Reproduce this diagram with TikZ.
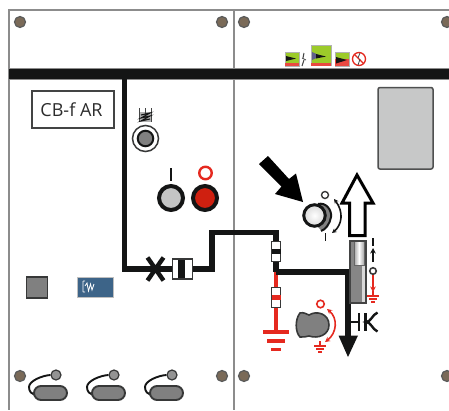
\documentclass[tikz,border=0pt]{standalone}
\usepackage{fontspec}
\setmainfont{Open Sans}
\usetikzlibrary{arrows.meta}
\definecolor{ink}{HTML}{141515}
\definecolor{edgegray}{HTML}{8C8C8C}
\definecolor{redline}{HTML}{E5291F}
\definecolor{redfill}{HTML}{CF2010}
\definecolor{midgray}{HTML}{808080}
\definecolor{lightgray}{HTML}{C4C5C5}
\definecolor{screwfill}{HTML}{7A6A58}
\definecolor{bluefill}{HTML}{3D6488}
\definecolor{greenfill}{HTML}{9CCB2A}
\tikzset{
 panel/.style={draw=edgegray,line width=1.2pt},
 wire/.style={draw=ink,line width=5.6pt,line cap=butt,line join=miter},
 redwire/.style={draw=redline,line width=4.6pt},
 screw/.style={circle,draw=ink!70,fill=screwfill,line width=1.2pt,minimum size=11pt,inner sep=0pt},
 fuseh/.style={draw=ink!85,fill=white,line width=1.4pt,minimum width=20pt,minimum height=20pt,inner sep=0pt},
 fusev/.style={draw=ink!85,fill=white,line width=1.4pt,minimum width=9.5pt,minimum height=20pt,inner sep=0pt},
 pill/.style={draw=ink!85,fill=midgray,line width=1.9pt,rounded corners=7pt},
 knobdot/.style={circle,draw=ink!85,fill=midgray!85,line width=1.2pt,minimum size=10pt,inner sep=0pt},
 thinbar/.style={draw=ink,line width=2pt},
 badge/.style={draw=black!30,line width=.6pt,fill=greenfill},
}
\begin{document}
\begin{tikzpicture}[x=1pt,y=-1pt]
\useasboundingbox (0,0) rectangle (449,410);
\fill[white] (0,0) rectangle (449,410);
% panel frame
\draw[panel] (449,10) -- (9,10) -- (9,410);
\draw[panel] (234,10) -- (234,410);
% screws
\foreach \nm/\px/\py in {a/20/22,b/222/22,c/244/22,d/447/22,e/20/376,f/222/376,g/244/376,h/447/376}
  \node[screw] (screw\nm) at (\px,\py) {};
% bus
\fill[edgegray] (9,68) rectangle (449,80);
\fill[ink] (9,69.3) rectangle (449,79.2);
\coordinate (busT) at (124.5,79);
% CB box
\node[draw=ink!80,line width=1.4pt,minimum width=82pt,minimum height=37pt,inner sep=0pt,font=\fontsize{18}{18}\selectfont,text=ink!90] (cb) at (73,109.5) {\hspace*{-3pt}CB-f AR};
% main wires
\coordinate (c1) at (124.5,269);
\coordinate (c2) at (212,269);
\coordinate (c3) at (212,232.5);
\coordinate (c4) at (276,232.5);
\coordinate (j) at (276,272);
\coordinate (c5) at (348,272);
\coordinate (c6) at (348,340);
\draw[redwire] (276,272) -- (276,332);
\draw[wire] (busT) -- (c1) -- (c2) -- (c3) -- (c4) -- (j);
\draw[wire] (j) -- (c5) -- (c6);
% arrow tip of line
\fill[ink] (338.5,335.5) -- (358,335.5) -- (348,357) -- cycle;
% cross
\coordinate (xc) at (155.5,269);
\draw[ink,line width=4.4pt] (147.5,257.5) -- (163.5,280.5) (147.5,280.5) -- (163.5,257.5);
% fuses
\node[fuseh] (fa) at (182.5,269) {};
\fill[ink] (178,260) rectangle (185,278);
\node[fusev] (fb) at (276,251.5) {};
\fill[ink] (271.5,249) rectangle (280.5,254);
\node[fusev,draw=ink!85] (fc) at (276,297.5) {};
\fill[redline] (271.5,295) rectangle (280.5,300);
% big ground
\coordinate (gnd) at (276,332);
\draw[redline,line width=3.4pt] (263,332) -- (289,332) (267,341) -- (285,341) (271,349.5) -- (281,349.5);
% indicator
\begin{scope}
\fill[black!30] (139,112) rectangle (152,122);
\draw[ink!80,line width=.8pt] (139.5,108) -- (139.5,122) (151.5,108) -- (151.5,122) (145.5,108) -- (145.5,114);
\draw[ink,line width=1.1pt] (141,115) -- (150,113) -- (141,118) -- (150,116) -- (141,121) -- (150,119);
\end{scope}
\node[circle,draw=ink!85,fill=white,line width=1.5pt,minimum size=26pt,inner sep=0pt] (ind) at (145.5,138.5) {};
\node[circle,draw=ink,fill=midgray,line width=2pt,minimum size=15.5pt,inner sep=0pt] (indin) at (145.5,138.5) {};
% buttons
\node[circle,draw=ink,fill=lightgray,line width=4pt,minimum size=24pt,inner sep=0pt] (btnI) at (171,198) {};
\node[circle,draw=ink,fill=redfill,line width=4pt,minimum size=24pt,inner sep=0pt] (btnO) at (205,198) {};
\draw[ink,line width=2.4pt] (171,168) -- (171,181);
\node[circle,draw=redline,fill=white,line width=2.4pt,minimum size=12.5pt,inner sep=0pt] (btnOr) at (205.5,173) {};
% square and blue box
\node[draw=ink!85,fill=midgray,line width=1.7pt,minimum width=21pt,minimum height=21pt,inner sep=0pt] (sq) at (37,287.5) {};
\fill[bluefill,draw=black!25,line width=.5pt] (77.5,277.5) rectangle (113,297);
\draw[white,line width=.8pt] (83,281) -- (83,292) (83,281) -- (85,281) (83,292) -- (85,292)
  (85,286) -- (87,283) -- (88.5,291) -- (90.5,284) -- (92,290) -- (94,284);
% handles
\foreach \i/\dx in {a/0,b/58,c/116}{
  \begin{scope}[xshift=\dx pt]
  \node[knobdot] (k\i) at (56,375) {};
  \draw[ink,line width=1.9pt] (k\i.west) .. controls (42,375.5) and (29,381) .. (29,387) .. controls (29,392) and (32,394) .. (35,395);
  \draw[pill] (34,386) rectangle (67,400);
  \end{scope}
}
% grey display
\draw[ink!75,fill=lightgray!95!white,line width=1.5pt,rounded corners=2pt] (378,87.5) rectangle (433,169);
% top icons
\fill[badge] (285,52) rectangle (299,66);
\fill[redline!85] (285,62.5) rectangle (299,66);
\fill[ink] (286,56) -- (296,58.5) -- (286,61) -- cycle;
\draw[ink!80,line width=1pt] (304,53) -- (303,58) (304,60) -- (302,66);
\draw[ink!80,line width=.8pt] (302,58) -- (306,60);
\fill[badge] (311,45.5) rectangle (331,65.5);
\fill[redline!85] (311,63) rectangle (331,65.5);
\fill[black!30!blue!25!gray] (312,52) -- (321,56) -- (312,60) -- cycle;
\fill[ink] (316,54) -- (326,56.5) -- (316,58.5) -- cycle;
\fill[badge] (335,52.5) rectangle (349,66);
\fill[redline!85] (335,59) rectangle (349,66);
\fill[ink] (336,57) -- (347,60) -- (336,63.5) -- cycle;
\node[circle,draw=redline,line width=1.3pt,minimum size=13pt,inner sep=0pt] (nosign) at (359,59) {};
\draw[redline,line width=1.3pt] (354.5,54.5) -- (363.5,63.5);
\draw[ink!80,line width=.8pt] (360,53) -- (358,58) (360,59) -- (358,65);
% big black arrow
\fill[black] (268,156) -- (289,179) -- (296,173.5) -- (303,202) -- (275,194) -- (281.5,186.5) -- (259,164) -- cycle;
% white up arrow
\draw[black,fill=white,line width=3pt,line join=miter] (357,175) -- (373,203) -- (365,203) -- (365,235.5) -- (349.5,235.5) -- (349.5,203) -- (342,203) -- cycle;
% upper knob
\fill[midgray] (318,204) .. controls (326,202) and (332,210) .. (331,217) .. controls (330,224) and (325,230) .. (321,230) -- (315,224) -- cycle;
\draw[ink,line width=2pt] (318,204) .. controls (326,202) and (332,210) .. (331,217) .. controls (330,224) and (325,230) .. (321,231);
\node[circle,draw=ink,line width=3pt,inner color=white,outer color=black!15,minimum size=21.5pt,inner sep=0pt] (knobA) at (314.5,215.5) {};
\node[circle,draw=ink!85,fill=white,line width=1.4pt,minimum size=7pt,inner sep=0pt] (knobAr) at (325,195) {};
\draw[ink,line width=1.6pt,{Stealth[length=4.5pt,width=4.5pt]}-{Stealth[length=4.5pt,width=4.5pt]}] (334,199) .. controls (344,212) and (342,225) .. (332,233);
\draw[ink,line width=1.9pt] (325.5,233) -- (325.5,241);
% switch
\draw[ink!80,fill=midgray!95,line width=1.4pt] (350,241) rectangle (366,303);
\shade[left color=black!35,right color=black!35,middle color=white] (354,242) rectangle (364,264);
\draw[black!60,line width=.7pt] (354,242) -- (354,265) -- (364,265) -- (364,242);
\fill[black!15] (361.5,265.5) rectangle (365.2,302);
% switch legend
\draw[thinbar] (373,238) -- (373,246);
\draw[thinbar,-{Stealth[length=5.5pt,width=5.5pt]}] (373,262) -- (373,248);
\node[circle,draw=ink!85,fill=white,line width=1.6pt,minimum size=6.5pt,inner sep=0pt] (legR) at (373,271) {};
\draw[redline,line width=1.8pt,-{Stealth[length=5.5pt,width=5.5pt]}] (373,275) -- (373,292);
\draw[redline,line width=1.3pt] (373,291) -- (373,296) (367,296) -- (379,296) (369,299) -- (377,299) (371,302) -- (375,302);
% HK symbol
\coordinate (hkb) at (348,322);
\draw[ink,line width=2.8pt] (hkb) -- (358,322) (359,313) -- (359,331) (365.5,313) -- (365.5,331);
\draw[ink,line width=2.4pt] (377.5,312.5) .. controls (372,315) and (371,322) .. (366,322) .. controls (371,322) and (372,329) .. (377.5,331.5);
% lower knob
\draw[ink!85,fill=midgray,line width=1.6pt] (300,313) .. controls (304,312) and (306,314) .. (309,315) .. controls (317,310) and (329,314) .. (329,325) .. controls (329,335) and (318,339) .. (309,336) .. controls (306,337) and (303,337) .. (300,337) .. controls (295,332) and (295,319) .. (300,313) -- cycle;
\node[circle,draw=redline,fill=white,line width=1.6pt,minimum size=7.5pt,inner sep=0pt] (knobBr) at (320.5,304) {};
\draw[redline,line width=1.6pt,{Stealth[length=5pt,width=5pt]}-{Stealth[length=5pt,width=5pt]}] (327,309) .. controls (338,318) and (337,333) .. (325,342);
\draw[redline,line width=1.3pt] (320,341) -- (320,346) (314,346) -- (326,346) (316,349) -- (324,349) (318,352) -- (322,352);
\end{tikzpicture}
\end{document}
